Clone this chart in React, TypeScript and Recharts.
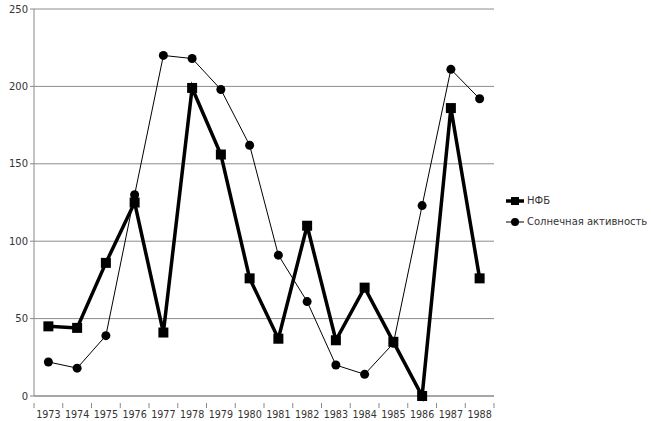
import { LineChart, Line, XAxis, YAxis, CartesianGrid } from 'recharts'

const years = [
  '1973', '1974', '1975', '1976', '1977', '1978', '1979', '1980',
  '1981', '1982', '1983', '1984', '1985', '1986', '1987', '1988',
]
const nfb = [45, 44, 86, 125, 41, 199, 156, 76, 37, 110, 36, 70, 35, 0, 186, 76]
const solar = [22, 18, 39, 130, 220, 218, 198, 162, 91, 61, 20, 14, 34, 123, 211, 192]
const yTicks = [0, 50, 100, 150, 200, 250]

const data = years.map((year, i) => ({ year, nfb: nfb[i], solar: solar[i] }))

const FONT = '"DejaVu Sans", sans-serif'
const BAND = 460 / years.length

// category ticks sit on the band boundaries, labels in the middle
function YearTick(props: any) {
  const { x, y, payload, index } = props
  const left = x - BAND / 2
  return (
    <g>
      <line x1={left} y1={y - 1} x2={left} y2={y + 4} stroke="#888" />
      {index === years.length - 1 && (
        <line x1={x + BAND / 2} y1={y - 1} x2={x + BAND / 2} y2={y + 4} stroke="#888" />
      )}
      <text x={x} y={y + 14} textAnchor="middle" fontSize={9.6} fontFamily={FONT} fill="#333">
        {payload.value}
      </text>
    </g>
  )
}

function SquareDot(props: any) {
  const { cx, cy } = props
  if (cx == null || cy == null) return null
  return <rect x={cx - 5} y={cy - 5} width={10} height={10} fill="#000" />
}

function RoundDot(props: any) {
  const { cx, cy } = props
  if (cx == null || cy == null) return null
  return <circle cx={cx} cy={cy} r={4.5} fill="#000" />
}

function LegendBox() {
  return (
    <div
      style={{
        position: 'absolute',
        left: 506,
        top: 190,
        fontFamily: FONT,
        fontSize: 10,
        color: '#333',
      }}
    >
      <div style={{ display: 'flex', alignItems: 'center', height: 21 }}>
        <svg width={20} height={12}>
          <line x1={0} y1={6} x2={18} y2={6} stroke="#000" strokeWidth={3.5} />
          <rect x={5} y={2} width={8} height={8} fill="#000" />
        </svg>
        <span style={{ marginLeft: 1 }}>НФБ</span>
      </div>
      <div style={{ display: 'flex', alignItems: 'center', height: 21 }}>
        <svg width={20} height={12}>
          <line x1={0} y1={6} x2={18} y2={6} stroke="#000" strokeWidth={1} />
          <circle cx={9} cy={6} r={4} fill="#000" />
        </svg>
        <span style={{ marginLeft: 1 }}>Солнечная активность</span>
      </div>
    </div>
  )
}

export default function App() {
  return (
    <div style={{ position: 'absolute', left: 0, top: 0, width: 651, height: 421, background: '#fff' }}>
      <LineChart
        width={651}
        height={421}
        data={data}
        margin={{ top: 9, right: 157, left: 0, bottom: 5 }}
      >
        <CartesianGrid vertical={false} stroke="#8c8c8c" />
        <XAxis
          dataKey="year"
          height={20}
          padding={{ left: BAND / 2, right: BAND / 2 }}
          tickLine={false}
          tick={<YearTick />}
          axisLine={{ stroke: '#888' }}
          interval={0}
        />
        <YAxis
          width={34}
          domain={[0, 250]}
          ticks={yTicks}
          tickSize={4}
          tickLine={{ stroke: '#888' }}
          axisLine={{ stroke: '#888' }}
          tick={{ fontSize: 10, fontFamily: FONT, fill: '#333' }}
        />
        <Line
          dataKey="nfb"
          name="НФБ"
          stroke="#000"
          strokeWidth={3.5}
          dot={<SquareDot />}
          activeDot={false}
          isAnimationActive={false}
        />
        <Line
          dataKey="solar"
          name="Солнечная активность"
          stroke="#000"
          strokeWidth={1}
          dot={<RoundDot />}
          activeDot={false}
          isAnimationActive={false}
        />
      </LineChart>
      <LegendBox />
    </div>
  )
}
